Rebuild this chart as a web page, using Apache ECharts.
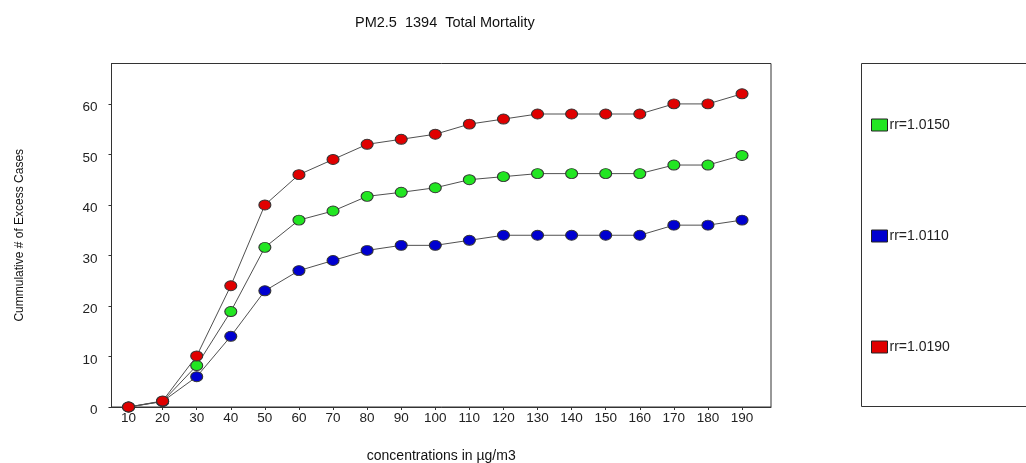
<!DOCTYPE html>
<html>
<head>
<meta charset="utf-8">
<script src="https://cdn.jsdelivr.net/npm/echarts@6/dist/echarts.min.js"></script>
<style>
html,body{margin:0;padding:0;background:#fff;}
#c{width:1026px;height:463px;}
</style>
</head>
<body>
<div id="c"></div>
<script>
const concentrations = [10,20,30,40,50,60,70,80,90,100,110,120,130,140,150,160,170,180,190];
const xTicks = [10,20,30,40,50,60,70,80,90,100,110,120,130,140,150,160,170,180,190];
const yTicks = [0,10,20,30,40,50,60];
const rr1015 = [0,1.1,8.2,18.9,31.6,37,38.8,41.7,42.5,43.4,45,45.6,46.2,46.2,46.2,46.2,47.9,47.9,49.8];
const rr1011 = [0,1.1,6,14,23,27,29,31,32,32,33,34,34,34,34,34,36,36,37];
const rr1019 = [0,1.2,10.1,24,40,46,49,52,53,54,56,57,58,58,58,58,60,60,62];
const seriesNames = ['rr=1.0150','rr=1.0110','rr=1.0190'];
const seriesColors = ['#22e622','#0000d0','#e00000'];

const chart = echarts.init(document.getElementById('c'), null, {renderer:'canvas'});
const pairs = arr => concentrations.map((c,i)=>[c,arr[i]]);
const allData = [rr1015, rr1011, rr1019];
const font = "'Liberation Sans', Arial, sans-serif";

chart.setOption({
  animation:false,
  backgroundColor:'#fff',
  title:{
    text:'PM2.5  1394  Total Mortality',
    left:350, top:10,
    textStyle:{fontFamily:font, fontSize:14.5, fontWeight:'normal', color:'#111'}
  },
  legend:{
    orient:'vertical',
    left:871, top:118,
    padding:0,
    itemWidth:16, itemHeight:12,
    itemGap:97,
    icon:'rect',
    itemStyle:{borderColor:'#222', borderWidth:1},
    textStyle:{fontFamily:font, fontSize:14, color:'#222', padding:[0,0,0,-3]},
    data:seriesNames
  },
  graphic:[{
    type:'rect',
    shape:{x:861.5, y:63.5, width:200, height:343},
    style:{fill:'none', stroke:'#333', lineWidth:1},
    silent:true
  }],
  grid:{
    left:111.5, top:63.5, right:255, bottom:56,
    outerBoundsMode:'none', containLabel:false,
    show:true, borderColor:'#333', borderWidth:1, backgroundColor:'#fff'
  },
  xAxis:{
    type:'value', min:5, max:198.5,
    name:'concentrations in µg/m3',
    nameLocation:'middle', nameGap:42,
    nameTextStyle:{fontFamily:font, fontSize:14, color:'#111'},
    axisLine:{show:true, lineStyle:{color:'#333'}},
    axisTick:{show:true, length:3, customValues:xTicks, lineStyle:{color:'#333'}},
    axisLabel:{customValues:xTicks, margin:4, fontFamily:font, fontSize:13.5, color:'#222'},
    splitLine:{show:false}
  },
  yAxis:{
    type:'value', min:0, max:68,
    name:'Cummulative # of Excess Cases',
    nameLocation:'middle', nameGap:86, nameRotate:90,
    nameTextStyle:{fontFamily:font, fontSize:12, color:'#111'},
    axisLine:{show:true, lineStyle:{color:'#333'}},
    axisTick:{show:true, length:3, customValues:yTicks, lineStyle:{color:'#333'}},
    axisLabel:{customValues:yTicks, margin:14, fontFamily:font, fontSize:13.5, color:'#222', verticalAlign:'top', lineHeight:13, padding:[-3,0,0,0]},
    splitLine:{show:false}
  },
  series: seriesNames.map((n,i)=>({
    name:n, type:'line',
    data:pairs(allData[i]),
    symbol:'circle', symbolSize:[12,10],
    showSymbol:true,
    lineStyle:{color:'#505050', width:1},
    itemStyle:{color:seriesColors[i], borderColor:'#333', borderWidth:1},
    z: 2+i
  }))
});
</script>
</body>
</html>
